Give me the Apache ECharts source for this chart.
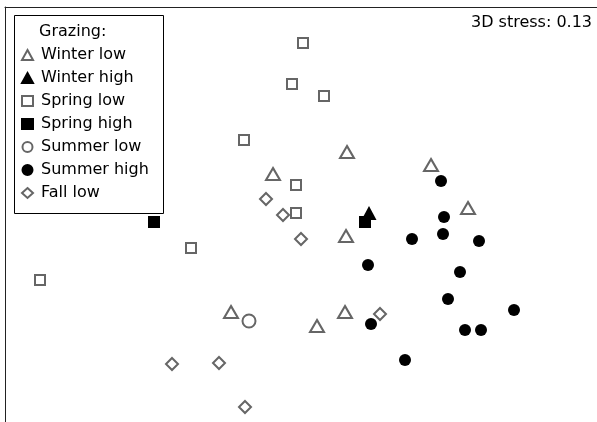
<!DOCTYPE html>
<html>
<head>
<meta charset="utf-8">
<script src="https://cdn.jsdelivr.net/npm/echarts@6/dist/echarts.min.js"></script>
<style>
html,body{margin:0;padding:0;background:#fff;}
#main{width:597px;height:422px;}
</style>
</head>
<body>
<div id="main"></div>
<script>
// NMDS ordination scores (plot units)
var winterLow   = [[347,152],[273,174],[346,236],[431,165],[468,208],[345,312],[231,312],[317,326]];
var winterHigh  = [[369,213]];
var springLow   = [[303,43],[292,84],[324,96],[244,140],[296,185],[296,213],[191,248],[40,280]];
var springHigh  = [[154,222],[365,222]];
var summerLow   = [[249,321]];
var summerHigh  = [[441,181],[444,217],[443,234],[412,239],[479,241],[368,265],[460,272],[448,299],
                   [514,310],[371,324],[465,330],[481,330],[405,360]];
var fallLow     = [[266,199],[283,215],[301,239],[380,314],[172,364],[219,363],[245,407]];

var groupNames = ['Winter low','Winter high','Spring low','Spring high','Summer low','Summer high','Fall low'];
var stressText = '3D stress: 0.13';

var grey = '#666';
var fontFam = '"DejaVu Sans", sans-serif';

function hollow(name, data, symbol, size){
	return {
		name: name, type: 'scatter', data: data,
		symbol: symbol, symbolSize: size,
		itemStyle: {color: '#fff', borderColor: grey, borderWidth: 2, opacity: 1},
		emphasis: {disabled: true}
	};
}
function solid(name, data, symbol, size){
	return {
		name: name, type: 'scatter', data: data,
		symbol: symbol, symbolSize: size,
		itemStyle: {color: '#000', borderWidth: 0, opacity: 1},
		emphasis: {disabled: true}
	};
}

// 图例里的实心符号加一圈描边，和空心符号一样大
var solidIcon = {borderColor: '#000', borderWidth: 2};

var chart = echarts.init(document.getElementById('main'));
var frameLine = {show: true, lineStyle: {color: '#222', width: 1}};
var option = {
	animation: false,
	backgroundColor: '#fff',
	title: [
		{text: stressText, right: 0, top: 10, textStyle: {fontFamily: fontFam, fontSize: 16, fontWeight: 'normal', color: '#000'}},
		{text: 'Grazing:', left: 34, top: 19, textStyle: {fontFamily: fontFam, fontSize: 16, fontWeight: 'normal', color: '#000'}}
	],
	graphic: [{
		type: 'rect', left: 12, top: 13,
		shape: {width: 149, height: 198},
		style: {fill: 'none', stroke: '#000', lineWidth: 1}
	}],
	legend: {
		orient: 'vertical', left: 21, top: 47, padding: 0,
		itemWidth: 11, itemHeight: 10, itemGap: 7,
		data: [
			{name: groupNames[0], icon: 'triangle'},
			{name: groupNames[1], icon: 'triangle', itemStyle: solidIcon},
			{name: groupNames[2], icon: 'rect'},
			{name: groupNames[3], icon: 'rect', itemStyle: solidIcon},
			{name: groupNames[4], icon: 'circle'},
			{name: groupNames[5], icon: 'circle', itemStyle: solidIcon},
			{name: groupNames[6], icon: 'diamond'}
		],
		textStyle: {fontFamily: fontFam, fontSize: 16, color: '#000', padding: [0,0,0,3]},
		selectedMode: false
	},
	grid: {left: 5, top: 7, right: 0, bottom: 0, outerBoundsMode: 'none'},
	xAxis: {type: 'value', position: 'top', min: 5, max: 597, axisLine: frameLine, axisTick: {show: false}, axisLabel: {show: false}, splitLine: {show: false}},
	yAxis: {type: 'value', position: 'left', min: 7, max: 422, inverse: true, axisLine: frameLine, axisTick: {show: false}, axisLabel: {show: false}, splitLine: {show: false}},
	series: [
		hollow(groupNames[0], winterLow, 'triangle', [14,12]),
		solid(groupNames[1], winterHigh, 'triangle', [15,14]),
		hollow(groupNames[2], springLow, 'rect', 10),
		solid(groupNames[3], springHigh, 'rect', 12),
		hollow(groupNames[4], summerLow, 'circle', 13),
		solid(groupNames[5], summerHigh, 'circle', 12),
		hollow(groupNames[6], fallLow, 'diamond', 12)
	]
};
chart.setOption(option);
</script>
</body>
</html>
